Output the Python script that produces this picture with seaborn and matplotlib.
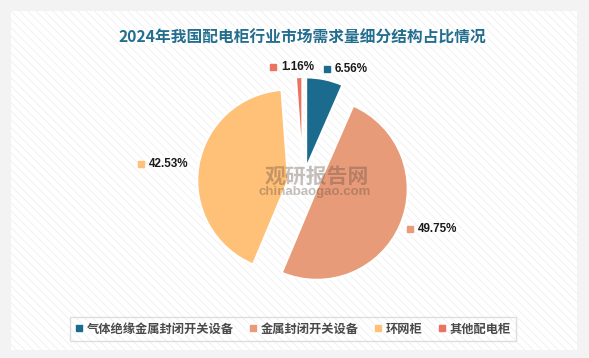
"""
plot.py
2024 distribution cabinet demand structure - exploded pie.
"""

import matplotlib
matplotlib.use("Agg")
import numpy as np
import matplotlib.pyplot as plt
from matplotlib.patches import Rectangle
from matplotlib.lines import Line2D
import seaborn as sns

categories = ["气体绝缘金属封闭开关设备", "金属封闭开关设备", "环网柜", "其他配电柜"]
shares = [6.56, 49.75, 42.53, 1.16]
colors = ["#1b6b8e", "#e89b79", "#ffc078", "#ec7360"]
title = "2024年我国配电柜行业市场需求量细分结构占比情况"

sns.set_theme(style="white")
plt.rcParams["font.family"] = ["Noto Sans CJK SC", "DejaVu Sans"]
plt.rcParams["hatch.linewidth"] = 0.6

W, H = 589, 358
fig = plt.figure(figsize=(W / 100, H / 100), dpi=100, facecolor="#f3f3f3")

# white panel with faint diagonal hatching
panel = (10.5 / W, 8 / H)
fig.patches.append(Rectangle(panel, 566.5 / W, 339 / H, transform=fig.transFigure,
                             facecolor="white", edgecolor="none", zorder=-3))
fig.patches.append(Rectangle(panel, 566.5 / W, 339 / H, transform=fig.transFigure,
                             fill=False, hatch="\\\\\\\\", edgecolor="#efefef",
                             linewidth=0, zorder=-2))

# pie: 91 px per data unit, centre at (303, 183) px
R = 91
cx, cy = 303, 183
ax = fig.add_axes([0, 0, 1, 1], zorder=1)
ax.patch.set_alpha(0)
wedges, _ = ax.pie(shares, colors=colors, startangle=90, counterclock=False,
                   explode=[15 / R] * len(shares),
                   wedgeprops=dict(edgecolor="white", linewidth=1.6))
ax.set_xlim(-cx / R, (W - cx) / R)
ax.set_ylim(-(H - cy) / R, cy / R)
ax.axis("off")

# watermark
fig.text(317 / W, 1 - 176 / H, "观研报告网", ha="center", va="center", fontsize=15,
         weight="bold", color="#5a4a40", alpha=0.35, zorder=5)
fig.text(315 / W, 1 - 192 / H, "chinabaogao.com", ha="center", va="center",
         fontsize=9.5, weight="bold", family="Liberation Sans", color="#5a4a40",
         alpha=0.35, zorder=5)

# percentage labels with coloured squares
fig.canvas.draw()
renderer = fig.canvas.get_renderer()
nudge = {3: 0.17}
for i, w in enumerate(wedges):
    ang = np.deg2rad((w.theta1 + w.theta2) / 2)
    x = 1.28 * np.cos(ang) + nudge.get(i, 0)
    y = 1.28 * np.sin(ang)
    label = f"{shares[i]:.2f}%"
    kw = dict(fontsize=8.4, weight="bold", family="Liberation Sans", color="#1a1a1a", va="center")
    if np.cos(ang) >= 0:
        ax.plot(x, y, marker="s", markersize=3.8, color=colors[i], clip_on=False)
        ax.annotate(label, (x, y), xytext=(5.5, 0), textcoords="offset points", ha="left", **kw)
    else:
        t = ax.text(x, y, label, ha="right", **kw)
        tw = t.get_window_extent(renderer).width
        ax.plot(x - (tw + 8) / R, y, marker="s", markersize=3.8, color=colors[i], clip_on=False)

fig.text(302 / W, 1 - 37.5 / H, title, ha="center", va="center", fontsize=11.3,
         weight="bold", color="#236d8e", zorder=5)

handles = [Line2D([], [], marker="s", linestyle="", markersize=4.3, color=c) for c in colors]
leg = fig.legend(handles, categories, loc="center", bbox_to_anchor=(293 / W, 1 - 329 / H),
                 ncol=4, frameon=True, fancybox=False, edgecolor="#d6d6d6",
                 prop=dict(family="Noto Sans CJK SC", weight="bold", size=8.8),
                 handlelength=0.7, handletextpad=0.3, columnspacing=1.2, borderpad=0.45)
leg.set_zorder(5)
leg.get_frame().set_facecolor("none")
leg.get_frame().set_linewidth(1.0)
for t in leg.get_texts():
    t.set_color("#4a4a4a")

fig.savefig("out.png", dpi=100, facecolor=fig.get_facecolor())
plt.close(fig)
